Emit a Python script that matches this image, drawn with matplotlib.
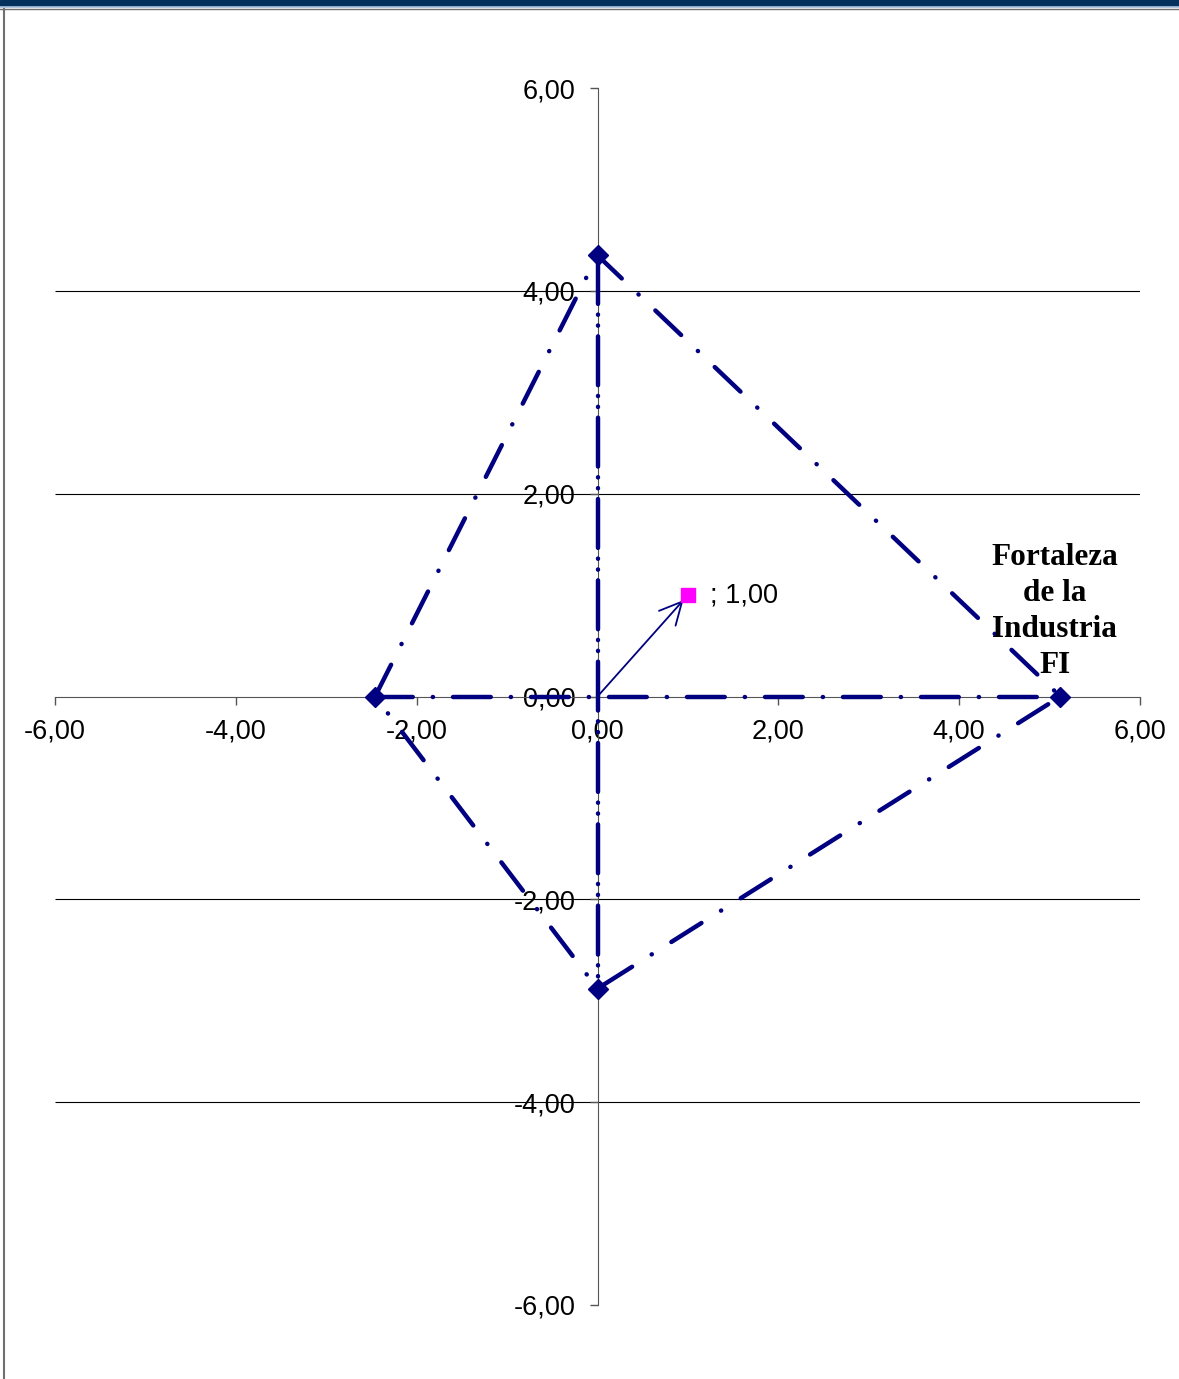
import matplotlib.pyplot as plt
from matplotlib.lines import Line2D
from matplotlib.patches import Rectangle
from matplotlib.ticker import FuncFormatter

# corners of the strength diamond (x, y)
diamond_x = [-2.46, 0.00, 5.12, 0.00, -2.46]
diamond_y = [0.00, 4.35, 0.00, -2.88, 0.00]

# the two axes of the diamond
horiz_x = [-2.46, 5.12]
horiz_y = [0.00, 0.00]
vert_x = [0.00, 0.00]
vert_y = [4.35, -2.88]

# resulting position vector
point_x = [1.00]
point_y = [1.00]
point_label = "; 1,00"

corner_label = "Fortaleza\nde la\nIndustria\nFI"

ticks = [-6, -4, -2, 0, 2, 4, 6]
grid_y = [-4, -2, 2, 4]

NAVY = "#000080"

fig = plt.figure(figsize=(11.79, 13.79), dpi=100)
ax = fig.add_axes((55 / 1179, 1 - 1305 / 1379, 1085 / 1179, 1217 / 1379))

# window frame
fig.add_artist(Rectangle((0, 1 - 6 / 1379), 1, 6 / 1379, transform=fig.transFigure,
                         color="#05315f", zorder=10))
fig.add_artist(Line2D([0, 1], [1 - 7 / 1379] * 2, transform=fig.transFigure,
                      color="#a9c4de", lw=1.2, zorder=10))
fig.add_artist(Line2D([0, 1], [1 - 9 / 1379] * 2, transform=fig.transFigure,
                      color="#707070", lw=1.0, zorder=10))
fig.add_artist(Line2D([4 / 1179] * 2, [0, 1 - 9 / 1379], transform=fig.transFigure,
                      color="#707070", lw=1.5, zorder=10))

ax.set_xlim(-6, 6)
ax.set_ylim(-6, 6)
ax.spines["top"].set_visible(False)
ax.spines["right"].set_visible(False)
ax.spines["left"].set_position("zero")
ax.spines["bottom"].set_position("zero")
ax.spines["left"].set_color("#555555")
ax.spines["bottom"].set_color("#555555")

ax.set_xticks(ticks)
ax.set_yticks(ticks)
fmt = FuncFormatter(lambda v, p: f"{v:.2f}".replace(".", ","))
ax.xaxis.set_major_formatter(fmt)
ax.yaxis.set_major_formatter(fmt)
ax.tick_params(direction="out", length=6, width=1, color="#555555",
               labelsize=19.5)
ax.tick_params(axis="x", pad=10)
ax.tick_params(axis="y", pad=10)
for lab in ax.get_xticklabels() + ax.get_yticklabels():
    lab.set_family("Liberation Sans")

ax.hlines(grid_y, -6, 6, color="#000000", lw=0.8, zorder=1)

ax.plot(diamond_x, diamond_y, color=NAVY, lw=3.2, dashes=(8, 5.2, 0.05, 5.2),
        dash_capstyle="round", zorder=3)
ax.plot(horiz_x, horiz_y, color=NAVY, lw=3.2, dashes=(8.5, 4.5, 0.05, 4.5),
        dash_capstyle="round", zorder=3)
ax.plot(vert_x, vert_y, color=NAVY, lw=3.2, dashes=(11, 2.4, 0.05, 2.4, 0.05, 2.4),
        dash_capstyle="round", zorder=3)
ax.plot(diamond_x[:-1], diamond_y[:-1], "D", color=NAVY, markersize=10, zorder=4)

ax.annotate("", xy=(point_x[0] - 0.05, point_y[0] - 0.05), xytext=(0, 0),
            arrowprops=dict(arrowstyle="->", color=NAVY, lw=1.3,
                            mutation_scale=40, shrinkA=0, shrinkB=0), zorder=5)
ax.plot(point_x, point_y, "s", color="#ff00ff", markersize=10, zorder=6)
ax.annotate(point_label, (point_x[0], point_y[0]), xytext=(16, 0),
            textcoords="offset points", va="center", ha="left",
            fontsize=19.5, family="Liberation Sans")

ax.annotate(corner_label, (diamond_x[2], diamond_y[2]), xytext=(-4, 12),
            textcoords="offset points", ha="center", va="bottom",
            fontsize=22.5, fontweight="bold", family="Liberation Serif",
            linespacing=1.32, zorder=7)

fig.savefig("out.png", dpi=100)
